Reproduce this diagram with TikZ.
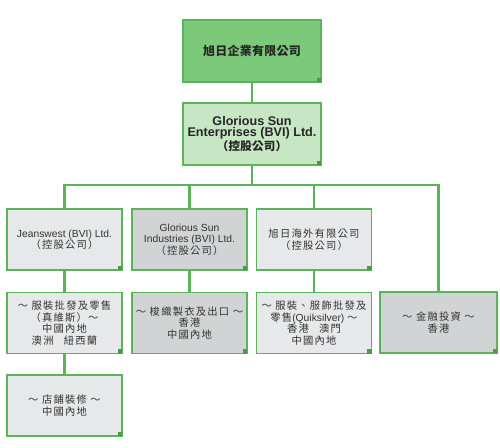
\documentclass[tikz,border=0pt]{standalone}
\usepackage{fontspec}
\setmainfont{Liberation Sans}
\newfontfamily\cjk[LetterSpace=12]{Noto Sans CJK TC}
\newfontfamily\cjkt[LetterSpace=2]{Noto Sans CJK TC}
\definecolor{boxline}{HTML}{5AB45A}
\definecolor{topfill}{HTML}{7CC97A}
\definecolor{secfill}{HTML}{C6E6C4}
\definecolor{lightg}{HTML}{E7E8E9}
\definecolor{darkg}{HTML}{D2D3D4}
\definecolor{textc}{HTML}{333333}
\begin{document}
\begin{tikzpicture}[x=1pt,y=-1pt,
  box/.style={draw=boxline, line width=1.8pt, align=center, inner sep=0pt,
    text=textc, font=\fontsize{10.3}{11.4}\selectfont,
    minimum width=115pt, minimum height=61pt},
  link/.style={draw=boxline, line width=2.6pt}]
\useasboundingbox (0,0) rectangle (500,447);
\fill[white] (0,0) rectangle (500,447);
% top
\node[box, fill=topfill, minimum width=138pt, minimum height=62pt, text=black!85,
  font=\fontsize{12}{14}\selectfont\bfseries] (top) at (252,51) {\cjkt 旭日企業有限公司};
\node[box, fill=secfill, minimum width=138pt, minimum height=62pt, text=black!85,
  font=\fontsize{12.6}{11.2}\selectfont\bfseries] (sec) at (252,134)
  {Glorious Sun\\Enterprises (BVI) Ltd.\\{\cjkt\fontsize{11.5}{11.2}\selectfont （控股公司）}};
% row 1
\node[box, fill=lightg] (b1) at (64.5,239.5) {Jeanswest (BVI) Ltd.\\{\cjk （控股公司）}};
\node[box, fill=darkg] (b2) at (189.5,239.5) {Glorious Sun\\Industries (BVI) Ltd.\\{\cjk （控股公司）}};
\node[box, fill=lightg] (b3) at (314,239.5) {{\cjk 旭日海外有限公司}\\{\cjk （控股公司）}};
% row 2
\node[box, fill=lightg] (c1) at (64.5,323) {\cjk ～ 服裝批發及零售\\\cjk （真維斯）～\\\cjk 中國內地\\\cjk 澳洲\quad 紐西蘭};
\node[box, fill=darkg] (c2) at (189.5,323) {\cjk ～ 梭織製衣及出口 ～\\\cjk 香港\\\cjk 中國內地};
\node[box, fill=lightg] (c3) at (314,323) {\cjk ～ 服裝、服飾批發及\\{\cjk 零售}(Quiksilver) {\cjk ～}\\\cjk 香港\quad 澳門\\\cjk 中國內地};
\node[box, fill=darkg, minimum width=117pt] (c4) at (438.5,322.5) {\cjk ～ 金融投資 ～\\\cjk 香港};
% row 3
\node[box, fill=lightg] (d1) at (64.5,405.5) {\cjk ～ 店鋪裝修 ～\\\cjk 中國內地};
% connectors
\coordinate (bus) at (252,185);
\draw[link] (top.south) -- (sec.north);
\draw[link] (sec.south) -- (bus);
\draw[link] (b1.north) |- (bus) -| (c4.north);
\draw[link] (b2.north) -- (b2.north |- bus);
\draw[link] (b3.north) -- (b3.north |- bus);
\draw[link] (b1.south) -- (c1.north);
\draw[link] (b2.south) -- (c2.north);
\draw[link] (b3.south) -- (c3.north);
\draw[link] (c1.south) -- (d1.north);
% corner squares
\foreach \n in {top,sec,b1,b2,b3,c1,c2,c3,c4,d1}{
  \fill[boxline!85!black] ([xshift=-5pt,yshift=5pt]\n.south east) rectangle ([xshift=-0.9pt,yshift=0.9pt]\n.south east);
}
\end{tikzpicture}
\end{document}
